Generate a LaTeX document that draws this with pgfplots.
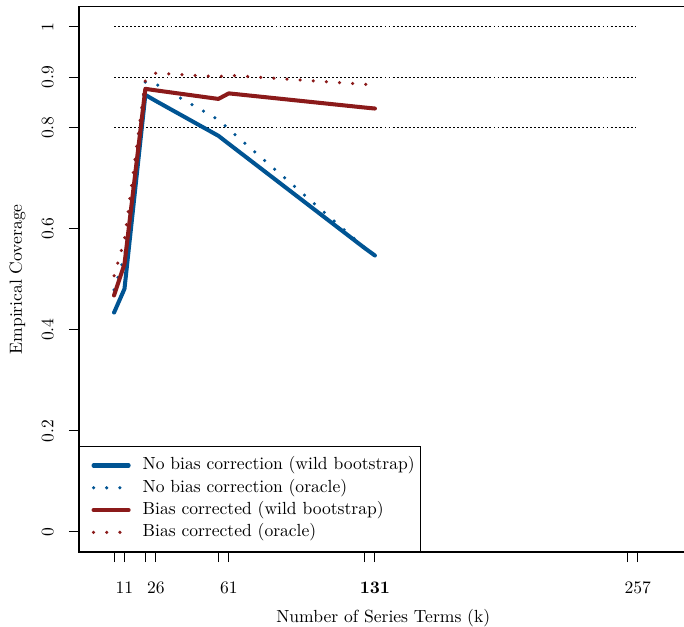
\documentclass[border=0pt]{standalone}
\usepackage{pgfplots}
\pgfplotsset{compat=1.18}
\definecolor{nbblue}{RGB}{0,84,147}
\definecolor{bcred}{RGB}{139,26,26}
\tikzset{
  solidline/.style={line width=2.3pt, line cap=round, line join=round},
  dotline/.style={line width=2pt, line cap=round, dash pattern=on 0pt off 7.5pt},
  refline/.style={black, line width=0.6pt, dash pattern=on 1.1pt off 1.2pt},
}
\begin{document}
\begin{tikzpicture}
\begin{axis}[
  name=ax, scale only axis, width=346.7pt, height=310.8pt,
  xmin=-10.8, xmax=280.8, ymin=-0.04, ymax=1.04,
  axis line style={line width=0.6pt},
  tick align=outside, major tick length=5.7pt,
  tick style={black, line width=0.5pt},
  xtick pos=bottom, ytick pos=left,
  xtick={6,11,21,26,56,61,126,131,252,257},
  xticklabels={,11,,26,,61,,\textbf{131},,257},
  ytick={0,0.2,0.4,0.6,0.8,0.9,1},
  yticklabels={0,0.2,0.4,0.6,0.8,0.9,1},
  xticklabel style={anchor=base, inner sep=0pt, yshift=-17.7pt},
  yticklabel style={xshift=-8.9pt, rotate=90, anchor=base, inner sep=0pt},
  xlabel={Number of Series Terms (k)},
  ylabel={Empirical Coverage},
  xlabel style={at={(axis description cs:0.5,-0.1284)}, anchor=base, inner sep=0pt},
  ylabel style={at={(axis description cs:-0.0937,0.5)}, anchor=base, inner sep=0pt},
  legend style={at={(0,0)}, anchor=south west, draw=black, line width=0.6pt,
    inner xsep=3.4pt, inner ysep=5.9pt, row sep=2.7pt,
    nodes={inner sep=0pt, text height=7.5pt, text depth=2.5pt}},
  legend cell align=left,
  legend image code/.code={\path[draw=none, fill=none] (0pt,0pt) -- (32.6pt,0pt); \draw[#1] (4.6pt,0pt) -- (24.6pt,0pt);},
]
% reference lines
\addplot[refline, forget plot] coordinates {(6,0.8) (256,0.8)};
\addplot[refline, forget plot] coordinates {(6,0.9) (256,0.9)};
\addplot[refline, forget plot] coordinates {(6,1) (256,1)};

\addplot[nbblue, solidline] coordinates {
  (6,0.434) (11,0.481) (21,0.865) (26,0.853) (56,0.784) (61,0.768) (126,0.562) (131,0.547)
};
\addlegendentry{No bias correction (wild bootstrap)}
\addplot[nbblue, dotline] coordinates {
  (6,0.479) (11,0.545) (21,0.891) (26,0.8865) (56,0.816) (61,0.797) (126,0.563) (131,0.5515)
};
\addlegendentry{No bias correction (oracle)}
\addplot[bcred, solidline] coordinates {
  (6,0.468) (11,0.530) (21,0.877) (26,0.874) (56,0.857) (61,0.868) (126,0.840) (131,0.838)
};
\addlegendentry{Bias corrected (wild bootstrap)}
\addplot[bcred, dotline] coordinates {
  (6,0.507) (11,0.578) (21,0.893) (26,0.908) (56,0.901) (61,0.904) (126,0.886) (131,0.8845)
};
\addlegendentry{Bias corrected (oracle)}
\end{axis}
\pgfresetboundingbox
\path[use as bounding box] ([xshift=-45pt,yshift=-42.2pt]ax.south west) rectangle ([xshift=344.7pt,yshift=314.5pt]ax.south west);
\end{tikzpicture}
\end{document}
